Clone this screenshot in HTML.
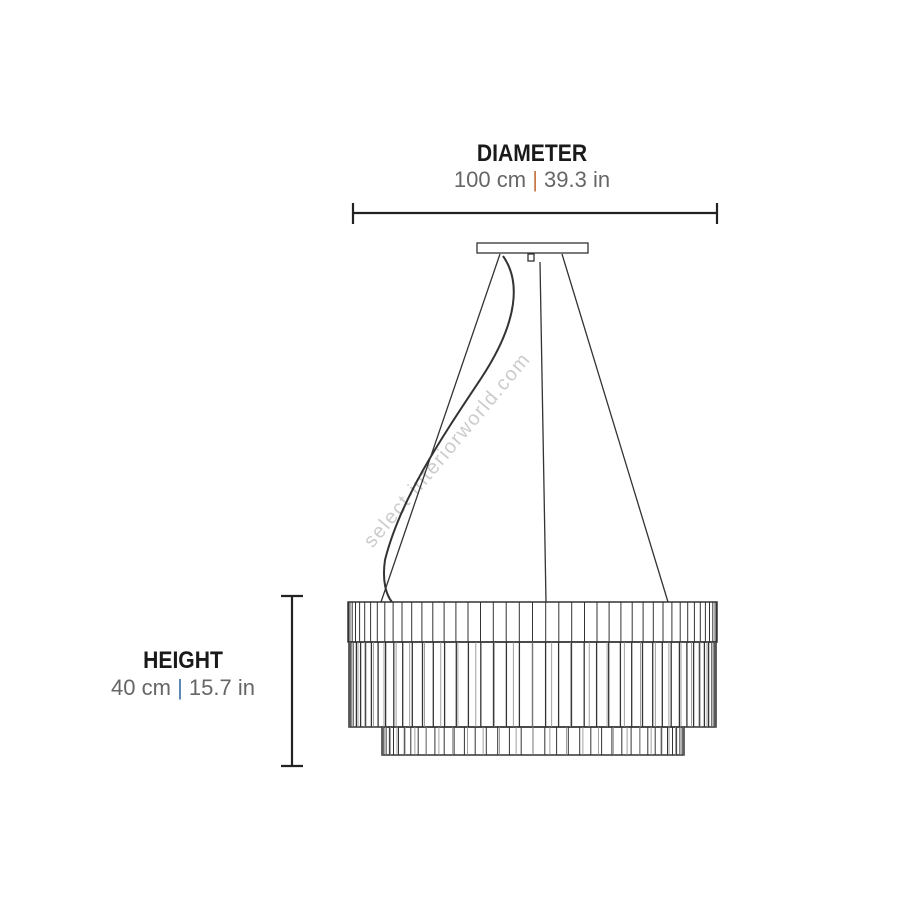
<!DOCTYPE html>
<html><head><meta charset="utf-8"><style>
html,body{margin:0;padding:0;background:#fff;width:900px;height:900px;overflow:hidden}
svg{display:block}
.b{font-family:"Liberation Sans",sans-serif;font-weight:bold;font-size:24px;fill:#1a1a1a}
.s{font-family:"Liberation Sans",sans-serif;font-size:22px;fill:#666}
</style></head><body>
<svg id="s" width="900" height="900" viewBox="0 0 900 900" xmlns="http://www.w3.org/2000/svg">
<text class="b" x="532" y="161" text-anchor="middle" transform="translate(532 0) scale(0.88 1) translate(-532 0)">DIAMETER</text>
<text class="s" x="532" y="187" text-anchor="middle">100 cm <tspan fill="#c87a4a">|</tspan> 39.3 in</text>
<g stroke="#222" stroke-width="2.2">
<line x1="353" y1="213" x2="717" y2="213"/><line x1="353" y1="203" x2="353" y2="224"/><line x1="717" y1="203" x2="717" y2="224"/>
<line x1="292" y1="596" x2="292" y2="766"/><line x1="281" y1="596" x2="303" y2="596"/><line x1="281" y1="766" x2="303" y2="766"/>
</g>
<text class="b" x="183" y="668" text-anchor="middle" transform="translate(183 0) scale(0.88 1) translate(-183 0)">HEIGHT</text>
<text class="s" x="183" y="695" text-anchor="middle">40 cm <tspan fill="#4a7ab0">|</tspan> 15.7 in</text>
<text x="452" y="454" transform="rotate(-50 452 454)" text-anchor="middle" font-family="Liberation Sans,sans-serif" font-size="20" fill="#ccc" letter-spacing="1.5">select-interiorworld.com</text>
<g stroke="#333" stroke-width="1.3" fill="none">
<rect x="477" y="243" width="111" height="10" fill="#fff"/>
<rect x="528" y="254" width="6" height="7"/>
<line x1="500" y1="254" x2="381" y2="602"/>
<line x1="562" y1="254" x2="668" y2="602"/>
<line x1="540" y1="262" x2="546" y2="602"/>
<path d="M503 256 C 520 280, 520 320, 480 380 C 440 440, 400 500, 385 560 C 382 580, 386 595, 392 602" stroke-width="2"/>
</g>
<g id="lamp" stroke="#333" stroke-width="1" fill="none">
<rect x="348" y="602" width="369" height="40" stroke-width="1.5"/>
<rect x="349" y="642" width="367" height="85" stroke-width="1.5"/>
<rect x="382" y="727" width="302" height="28" stroke-width="1.5"/>
</g>
</svg>
<script>
var g=document.getElementById('lamp'),ns='http://www.w3.org/2000/svg';
function band(x0,x1,y0,y1,n,w,c2){var c=(x0+x1)/2,r=(x1-x0)/2;for(var i=1;i<n;i++){var a=Math.PI*i/n;var x=c-r*Math.cos(a);var l=document.createElementNS(ns,'line');l.setAttribute('x1',x.toFixed(1));l.setAttribute('x2',x.toFixed(1));l.setAttribute('y1',y0);l.setAttribute('y2',y1);l.setAttribute('stroke-width',w);if(c2)l.setAttribute('stroke',c2);g.appendChild(l);}}
band(348,717,602,642,44,1);
band(349,716,642,727,44,1.3);
band(349,716,642,727,30,0.8,'#888');
band(382,684,727,755,40,1);
band(382,684,727,755,28,0.8,'#888');
</script>
</body></html>
